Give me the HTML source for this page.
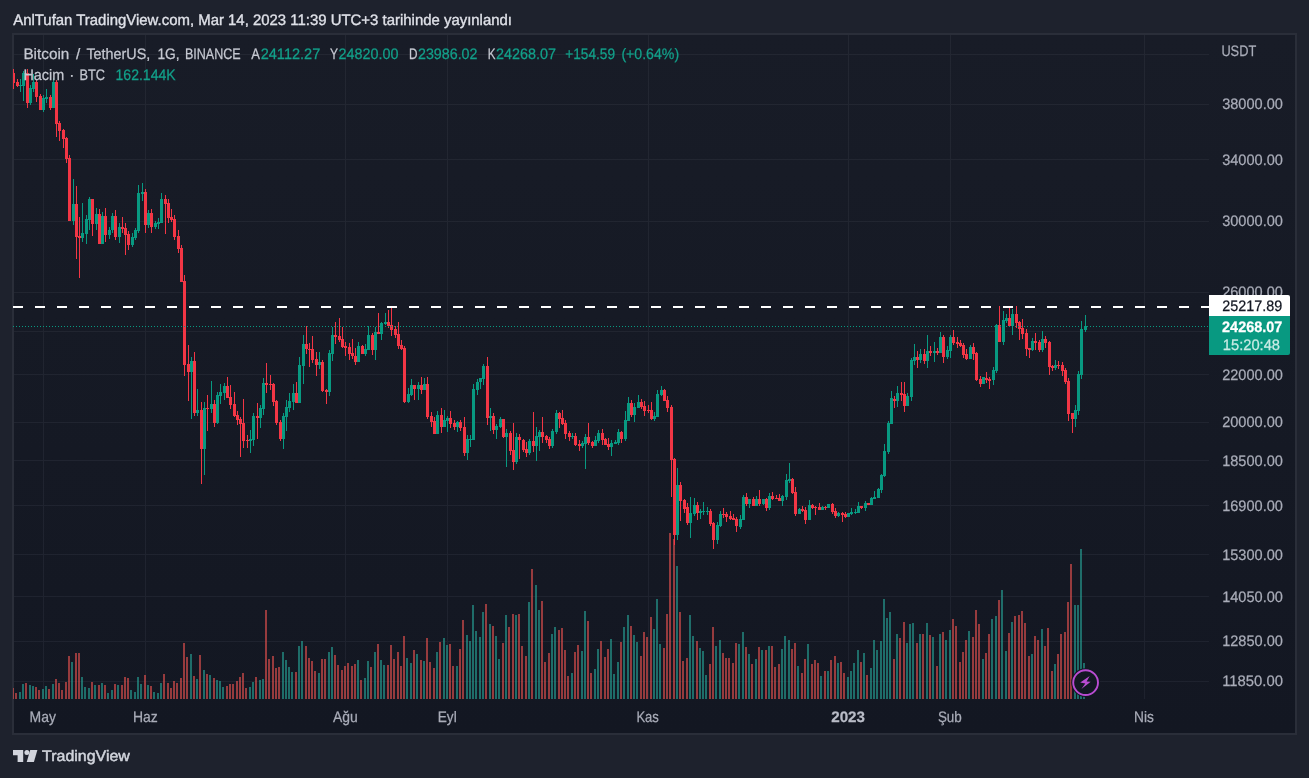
<!DOCTYPE html>
<html lang="tr"><head><meta charset="utf-8"><title>BTCUSDT</title>
<style>
html,body{margin:0;padding:0}
body{width:1309px;height:778px;background:#1e222d;position:relative;overflow:hidden;font-family:"Liberation Sans",Arial,sans-serif}
</style></head><body>
<svg width="1309" height="778" viewBox="0 0 1309 778" shape-rendering="crispEdges" style="position:absolute;left:0;top:0;will-change:transform">
<defs><linearGradient id="bg" x1="0" y1="0" x2="0" y2="1"><stop offset="0" stop-color="#181c27"/><stop offset="1" stop-color="#131722"/></linearGradient></defs>
<defs><clipPath id="pane"><rect x="13" y="35" width="1196" height="665"/></clipPath></defs>
<rect x="12" y="33" width="1285" height="702" fill="#2a2e39"/>
<rect x="14" y="35" width="1281" height="698" fill="url(#bg)"/>
<path d="M14 54.5H1209M14 104.5H1209M14 159.5H1209M14 221.5H1209M14 292.5H1209M14 331.5H1209M14 374.5H1209M14 422.5H1209M14 460.5H1209M14 505.5H1209M14 554.5H1209M14 596.5H1209M14 641.5H1209M14 681.5H1209M43.5 35V699M145.5 35V699M345.5 35V699M447.5 35V699M648.5 35V699M848.5 35V699M950.5 35V699M1144.5 35V699" stroke="#f0f3fa" stroke-opacity="0.055" stroke-width="1" fill="none"/>
<g clip-path="url(#pane)">
<path d="M19 699v-7h2v7zM22 699v-15h2v15zM29 699v-14h2v14zM32 699v-13h2v13zM42 699v-10h2v10zM45 699v-13h2v13zM52 699v-15h2v15zM71 699v-37h2v37zM81 699v-22h2v22zM84 699v-12h2v12zM88 699v-11h2v11zM94 699v-14h2v14zM101 699v-16h2v16zM107 699v-6h2v6zM111 699v-9h2v9zM117 699v-14h2v14zM130 699v-9h2v9zM134 699v-7h2v7zM137 699v-22h2v22zM140 699v-15h2v15zM147 699v-14h2v14zM153 699v-7h2v7zM157 699v-6h2v6zM160 699v-16h2v16zM190 699v-45h2v45zM196 699v-20h2v20zM203 699v-29h2v29zM209 699v-24h2v24zM216 699v-19h2v19zM219 699v-18h2v18zM222 699v-12h2v12zM249 699v-12h2v12zM252 699v-17h2v17zM259 699v-19h2v19zM262 699v-20h2v20zM282 699v-47h2v47zM285 699v-39h2v39zM288 699v-32h2v32zM291 699v-27h2v27zM298 699v-53h2v53zM301 699v-58h2v58zM318 699v-26h2v26zM328 699v-47h2v47zM331 699v-52h2v52zM357 699v-39h2v39zM364 699v-21h2v21zM367 699v-38h2v38zM374 699v-47h2v47zM380 699v-39h2v39zM383 699v-34h2v34zM406 699v-41h2v41zM410 699v-36h2v36zM416 699v-45h2v45zM423 699v-38h2v38zM436 699v-47h2v47zM443 699v-61h2v61zM446 699v-54h2v54zM456 699v-33h2v33zM466 699v-64h2v64zM469 699v-58h2v58zM472 699v-94h2v94zM475 699v-68h2v68zM479 699v-62h2v62zM482 699v-87h2v87zM489 699v-75h2v75zM495 699v-63h2v63zM498 699v-40h2v40zM505 699v-84h2v84zM515 699v-84h2v84zM528 699v-97h2v97zM535 699v-114h2v114zM538 699v-89h2v89zM551 699v-65h2v65zM554 699v-72h2v72zM571 699v-26h2v26zM581 699v-48h2v48zM584 699v-88h2v88zM594 699v-30h2v30zM597 699v-50h2v50zM610 699v-60h2v60zM613 699v-25h2v25zM617 699v-37h2v37zM623 699v-72h2v72zM627 699v-84h2v84zM633 699v-64h2v64zM636 699v-57h2v57zM653 699v-70h2v70zM656 699v-100h2v100zM659 699v-55h2v55zM676 699v-133h2v133zM689 699v-84h2v84zM692 699v-63h2v63zM699 699v-51h2v51zM702 699v-48h2v48zM705 699v-24h2v24zM715 699v-53h2v53zM719 699v-59h2v59zM738 699v-55h2v55zM742 699v-67h2v67zM748 699v-45h2v45zM755 699v-40h2v40zM761 699v-49h2v49zM768 699v-53h2v53zM781 699v-50h2v50zM784 699v-63h2v63zM788 699v-59h2v59zM797 699v-33h2v33zM807 699v-55h2v55zM820 699v-23h2v23zM827 699v-28h2v28zM837 699v-36h2v36zM847 699v-22h2v22zM850 699v-28h2v28zM853 699v-36h2v36zM857 699v-49h2v49zM863 699v-46h2v46zM870 699v-31h2v31zM873 699v-59h2v59zM876 699v-49h2v49zM880 699v-58h2v58zM883 699v-100h2v100zM886 699v-81h2v81zM889 699v-87h2v87zM896 699v-65h2v65zM906 699v-56h2v56zM909 699v-75h2v75zM912 699v-76h2v76zM919 699v-65h2v65zM926 699v-76h2v76zM932 699v-62h2v62zM939 699v-65h2v65zM945 699v-59h2v59zM949 699v-69h2v69zM968 699v-68h2v68zM982 699v-40h2v40zM991 699v-80h2v80zM995 699v-83h2v83zM1001 699v-109h2v109zM1005 699v-48h2v48zM1011 699v-77h2v77zM1031 699v-45h2v45zM1041 699v-70h2v70zM1054 699v-35h2v35zM1074 699v-94h2v94zM1077 699v-94h2v94zM1080 699v-150h2v150zM1083 699v-36h2v36z" fill="#26a69a" fill-opacity="0.6"/>
<path d="M12 699v-11h2v11zM15 699v-6h2v6zM25 699v-16h2v16zM35 699v-12h2v12zM38 699v-9h2v9zM48 699v-10h2v10zM55 699v-20h2v20zM58 699v-16h2v16zM61 699v-9h2v9zM65 699v-17h2v17zM68 699v-43h2v43zM75 699v-46h2v46zM78 699v-46h2v46zM91 699v-17h2v17zM98 699v-14h2v14zM104 699v-14h2v14zM114 699v-15h2v15zM121 699v-14h2v14zM124 699v-22h2v22zM127 699v-21h2v21zM144 699v-24h2v24zM150 699v-13h2v13zM163 699v-25h2v25zM167 699v-16h2v16zM170 699v-11h2v11zM173 699v-18h2v18zM176 699v-16h2v16zM180 699v-21h2v21zM183 699v-56h2v56zM186 699v-42h2v42zM193 699v-23h2v23zM199 699v-44h2v44zM206 699v-25h2v25zM213 699v-21h2v21zM226 699v-13h2v13zM229 699v-15h2v15zM232 699v-15h2v15zM236 699v-18h2v18zM239 699v-22h2v22zM242 699v-26h2v26zM245 699v-11h2v11zM255 699v-22h2v22zM265 699v-89h2v89zM268 699v-40h2v40zM272 699v-43h2v43zM275 699v-31h2v31zM278 699v-32h2v32zM295 699v-27h2v27zM305 699v-53h2v53zM308 699v-41h2v41zM311 699v-38h2v38zM314 699v-28h2v28zM321 699v-40h2v40zM324 699v-40h2v40zM334 699v-44h2v44zM337 699v-34h2v34zM341 699v-29h2v29zM344 699v-33h2v33zM347 699v-36h2v36zM351 699v-33h2v33zM354 699v-35h2v35zM360 699v-19h2v19zM370 699v-32h2v32zM377 699v-55h2v55zM387 699v-34h2v34zM390 699v-54h2v54zM393 699v-40h2v40zM397 699v-47h2v47zM400 699v-33h2v33zM403 699v-63h2v63zM413 699v-49h2v49zM420 699v-39h2v39zM426 699v-61h2v61zM429 699v-37h2v37zM433 699v-31h2v31zM439 699v-57h2v57zM449 699v-55h2v55zM452 699v-33h2v33zM459 699v-50h2v50zM462 699v-79h2v79zM485 699v-95h2v95zM492 699v-73h2v73zM502 699v-56h2v56zM508 699v-72h2v72zM512 699v-85h2v85zM518 699v-85h2v85zM521 699v-53h2v53zM525 699v-43h2v43zM531 699v-130h2v130zM541 699v-98h2v98zM544 699v-37h2v37zM548 699v-46h2v46zM558 699v-69h2v69zM561 699v-71h2v71zM564 699v-49h2v49zM567 699v-23h2v23zM574 699v-47h2v47zM577 699v-54h2v54zM587 699v-78h2v78zM590 699v-26h2v26zM600 699v-58h2v58zM604 699v-42h2v42zM607 699v-50h2v50zM620 699v-57h2v57zM630 699v-73h2v73zM640 699v-43h2v43zM643 699v-67h2v67zM646 699v-62h2v62zM650 699v-82h2v82zM663 699v-51h2v51zM666 699v-85h2v85zM669 699v-166h2v166zM673 699v-160h2v160zM679 699v-87h2v87zM682 699v-38h2v38zM686 699v-41h2v41zM696 699v-58h2v58zM709 699v-35h2v35zM712 699v-72h2v72zM722 699v-46h2v46zM725 699v-41h2v41zM728 699v-41h2v41zM732 699v-36h2v36zM735 699v-56h2v56zM745 699v-52h2v52zM751 699v-35h2v35zM758 699v-52h2v52zM765 699v-49h2v49zM771 699v-53h2v53zM774 699v-32h2v32zM778 699v-35h2v35zM791 699v-50h2v50zM794 699v-56h2v56zM801 699v-26h2v26zM804 699v-40h2v40zM811 699v-35h2v35zM814 699v-39h2v39zM817 699v-36h2v36zM824 699v-28h2v28zM830 699v-39h2v39zM834 699v-43h2v43zM840 699v-37h2v37zM843 699v-26h2v26zM860 699v-37h2v37zM866 699v-24h2v24zM893 699v-40h2v40zM899 699v-61h2v61zM903 699v-77h2v77zM916 699v-56h2v56zM922 699v-65h2v65zM929 699v-64h2v64zM936 699v-33h2v33zM942 699v-67h2v67zM952 699v-80h2v80zM955 699v-73h2v73zM959 699v-37h2v37zM962 699v-47h2v47zM965 699v-59h2v59zM972 699v-62h2v62zM975 699v-89h2v89zM978 699v-75h2v75zM985 699v-46h2v46zM988 699v-65h2v65zM998 699v-99h2v99zM1008 699v-66h2v66zM1014 699v-83h2v83zM1018 699v-84h2v84zM1021 699v-88h2v88zM1024 699v-76h2v76zM1028 699v-43h2v43zM1034 699v-63h2v63zM1037 699v-59h2v59zM1044 699v-53h2v53zM1047 699v-71h2v71zM1051 699v-28h2v28zM1057 699v-45h2v45zM1060 699v-65h2v65zM1064 699v-67h2v67zM1067 699v-97h2v97zM1070 699v-135h2v135z" fill="#ef5350" fill-opacity="0.6"/>
<path d="M20 79h1v13h-1zM19 85h3v1h-3zM23 71h1v30h-1zM22 73h3v13h-3zM30 85h1v20h-1zM29 88h3v15h-3zM33 74h1v18h-1zM32 82h3v7h-3zM43 95h1v17h-1zM42 98h3v12h-3zM46 89h1v14h-1zM45 97h3v2h-3zM53 78h1v30h-1zM52 82h3v26h-3zM73 179h1v46h-1zM72 204h3v17h-3zM82 203h1v39h-1zM81 233h3v5h-3zM86 215h1v29h-1zM85 219h3v15h-3zM89 197h1v33h-1zM88 199h3v21h-3zM96 208h1v22h-1zM95 214h3v10h-3zM102 212h1v32h-1zM101 216h3v28h-3zM109 227h1v12h-1zM108 230h3v5h-3zM112 213h1v20h-1zM111 216h3v14h-3zM119 223h1v20h-1zM118 227h3v10h-3zM132 233h1v14h-1zM131 237h3v8h-3zM135 228h1v12h-1zM134 230h3v8h-3zM138 185h1v48h-1zM137 193h3v38h-3zM142 183h1v18h-1zM141 192h3v2h-3zM148 210h1v18h-1zM147 213h3v12h-3zM155 221h1v8h-1zM154 223h3v4h-3zM158 218h1v11h-1zM157 222h3v2h-3zM161 193h1v30h-1zM160 199h3v24h-3zM191 357h1v62h-1zM190 361h3v11h-3zM197 389h1v27h-1zM196 410h3v3h-3zM204 402h1v73h-1zM203 408h3v41h-3zM211 381h1v32h-1zM210 404h3v5h-3zM217 392h1v32h-1zM216 395h3v28h-3zM220 384h1v20h-1zM219 392h3v4h-3zM224 383h1v17h-1zM223 386h3v7h-3zM250 430h1v23h-1zM249 439h3v2h-3zM253 413h1v33h-1zM252 416h3v24h-3zM260 405h1v23h-1zM259 408h3v10h-3zM263 378h1v37h-1zM262 383h3v26h-3zM283 413h1v36h-1zM282 416h3v23h-3zM286 400h1v31h-1zM285 407h3v10h-3zM289 393h1v19h-1zM288 401h3v7h-3zM293 384h1v26h-1zM292 393h3v9h-3zM299 357h1v46h-1zM298 365h3v38h-3zM303 335h1v49h-1zM302 344h3v22h-3zM319 352h1v17h-1zM318 362h3v3h-3zM329 350h1v46h-1zM328 353h3v39h-3zM332 327h1v34h-1zM331 335h3v19h-3zM358 342h1v20h-1zM357 346h3v16h-3zM365 344h1v12h-1zM364 349h3v5h-3zM368 326h1v24h-1zM367 335h3v15h-3zM375 327h1v33h-1zM374 332h3v18h-3zM381 322h1v18h-1zM380 323h3v11h-3zM385 313h1v12h-1zM384 322h3v2h-3zM408 388h1v15h-1zM407 394h3v8h-3zM411 379h1v17h-1zM410 385h3v10h-3zM418 382h1v18h-1zM417 385h3v4h-3zM424 378h1v12h-1zM423 384h3v6h-3zM437 411h1v23h-1zM436 415h3v19h-3zM444 410h1v17h-1zM443 420h3v7h-3zM447 416h1v16h-1zM446 418h3v3h-3zM457 421h1v11h-1zM456 422h3v5h-3zM467 435h1v25h-1zM466 439h3v14h-3zM470 435h1v12h-1zM469 439h3v1h-3zM473 384h1v56h-1zM472 389h3v51h-3zM477 379h1v16h-1zM476 382h3v8h-3zM480 378h1v11h-1zM479 378h3v4h-3zM483 364h1v21h-1zM482 366h3v13h-3zM490 408h1v23h-1zM489 416h3v2h-3zM496 424h1v15h-1zM495 426h3v4h-3zM500 417h1v11h-1zM499 419h3v8h-3zM506 429h1v38h-1zM505 433h3v4h-3zM516 433h1v31h-1zM515 437h3v25h-3zM529 439h1v16h-1zM528 441h3v12h-3zM536 427h1v34h-1zM535 436h3v10h-3zM539 430h1v21h-1zM538 432h3v5h-3zM552 429h1v19h-1zM551 431h3v15h-3zM556 410h1v24h-1zM555 413h3v19h-3zM572 433h1v6h-1zM571 436h3v1h-3zM582 441h1v7h-1zM581 443h3v3h-3zM585 434h1v35h-1zM584 437h3v7h-3zM595 436h1v10h-1zM594 440h3v6h-3zM598 430h1v13h-1zM597 433h3v8h-3zM611 440h1v16h-1zM610 443h3v4h-3zM615 440h1v4h-1zM614 442h3v2h-3zM618 429h1v16h-1zM617 432h3v11h-3zM625 411h1v30h-1zM624 420h3v19h-3zM628 397h1v24h-1zM627 403h3v18h-3zM634 403h1v19h-1zM633 407h3v8h-3zM638 395h1v13h-1zM637 402h3v6h-3zM654 412h1v9h-1zM653 416h3v3h-3zM657 390h1v27h-1zM656 394h3v23h-3zM661 386h1v10h-1zM660 390h3v5h-3zM677 468h1v72h-1zM676 485h3v50h-3zM690 497h1v41h-1zM689 513h3v10h-3zM694 498h1v18h-1zM693 505h3v9h-3zM700 509h1v10h-1zM699 511h3v2h-3zM703 502h1v13h-1zM702 511h3v1h-3zM707 507h1v8h-1zM706 511h3v1h-3zM717 522h1v22h-1zM716 525h3v15h-3zM720 511h1v16h-1zM719 514h3v12h-3zM740 515h1v14h-1zM739 519h3v8h-3zM743 495h1v25h-1zM742 497h3v23h-3zM749 499h1v9h-1zM748 499h3v5h-3zM756 496h1v10h-1zM755 499h3v7h-3zM763 499h1v6h-1zM762 499h3v5h-3zM769 493h1v17h-1zM768 496h3v12h-3zM782 495h1v11h-1zM781 496h3v5h-3zM786 474h1v26h-1zM785 480h3v17h-3zM789 463h1v20h-1zM788 479h3v2h-3zM799 508h1v6h-1zM798 509h3v5h-3zM809 500h1v20h-1zM808 505h3v15h-3zM822 506h1v4h-1zM821 507h3v3h-3zM828 504h1v4h-1zM827 504h3v4h-3zM838 512h1v5h-1zM837 513h3v3h-3zM848 513h1v4h-1zM847 513h3v4h-3zM851 508h1v7h-1zM850 512h3v2h-3zM855 509h1v5h-1zM854 512h3v1h-3zM858 502h1v11h-1zM857 506h3v7h-3zM865 501h1v10h-1zM864 503h3v5h-3zM871 497h1v8h-1zM870 498h3v7h-3zM874 491h1v8h-1zM873 497h3v2h-3zM878 488h1v10h-1zM877 489h3v9h-3zM881 474h1v19h-1zM880 475h3v15h-3zM884 444h1v33h-1zM883 451h3v25h-3zM888 421h1v33h-1zM887 423h3v29h-3zM891 391h1v33h-1zM890 398h3v26h-3zM897 386h1v21h-1zM896 393h3v8h-3zM907 393h1v13h-1zM906 396h3v10h-3zM911 358h1v43h-1zM910 360h3v37h-3zM914 344h1v21h-1zM913 357h3v4h-3zM920 349h1v14h-1zM919 354h3v6h-3zM927 335h1v33h-1zM926 351h3v10h-3zM934 342h1v20h-1zM933 351h3v2h-3zM940 332h1v21h-1zM939 337h3v16h-3zM947 346h1v13h-1zM946 350h3v7h-3zM950 335h1v23h-1zM949 337h3v14h-3zM970 345h1v14h-1zM969 347h3v12h-3zM983 377h1v7h-1zM982 377h3v7h-3zM993 367h1v18h-1zM992 370h3v10h-3zM996 324h1v49h-1zM995 325h3v46h-3zM1003 311h1v34h-1zM1002 320h3v22h-3zM1006 314h1v9h-1zM1005 318h3v3h-3zM1012 309h1v26h-1zM1011 314h3v12h-3zM1032 338h1v13h-1zM1031 341h3v9h-3zM1042 331h1v21h-1zM1041 339h3v11h-3zM1055 360h1v10h-1zM1054 365h3v3h-3zM1075 405h1v22h-1zM1074 410h3v9h-3zM1078 371h1v44h-1zM1077 374h3v37h-3zM1081 321h1v58h-1zM1080 329h3v46h-3zM1085 315h1v17h-1zM1084 326h3v4h-3z" fill="#089981"/>
<path d="M13 69h1v20h-1zM12 73h3v10h-3zM17 79h1v8h-1zM16 82h3v4h-3zM27 69h1v39h-1zM26 73h3v30h-3zM36 80h1v22h-1zM35 82h3v15h-3zM40 94h1v16h-1zM39 96h3v14h-3zM50 95h1v15h-1zM49 97h3v11h-3zM56 80h1v57h-1zM55 82h3v42h-3zM59 121h1v20h-1zM58 123h3v8h-3zM63 129h1v19h-1zM62 130h3v9h-3zM66 137h1v26h-1zM65 138h3v21h-3zM69 155h1v66h-1zM68 158h3v63h-3zM76 186h1v73h-1zM75 204h3v33h-3zM79 217h1v61h-1zM78 236h3v2h-3zM92 199h1v37h-1zM91 199h3v25h-3zM99 209h1v35h-1zM98 214h3v30h-3zM105 208h1v34h-1zM104 216h3v19h-3zM115 210h1v30h-1zM114 216h3v21h-3zM122 217h1v16h-1zM121 227h3v2h-3zM125 223h1v32h-1zM124 228h3v7h-3zM128 231h1v19h-1zM127 234h3v11h-3zM145 189h1v44h-1zM144 192h3v33h-3zM151 209h1v24h-1zM150 213h3v14h-3zM165 195h1v39h-1zM164 199h3v5h-3zM168 199h1v24h-1zM167 203h3v15h-3zM171 209h1v13h-1zM170 217h3v3h-3zM174 215h1v25h-1zM173 219h3v18h-3zM178 230h1v23h-1zM177 236h3v13h-3zM181 245h1v37h-1zM180 248h3v34h-3zM184 275h1v101h-1zM183 281h3v84h-3zM188 345h1v56h-1zM187 364h3v8h-3zM194 352h1v64h-1zM193 361h3v52h-3zM201 402h1v82h-1zM200 410h3v39h-3zM207 395h1v36h-1zM206 408h3v1h-3zM214 400h1v27h-1zM213 404h3v19h-3zM227 377h1v21h-1zM226 386h3v12h-3zM230 385h1v24h-1zM229 397h3v8h-3zM234 392h1v25h-1zM233 404h3v12h-3zM237 411h1v14h-1zM236 415h3v5h-3zM240 417h1v40h-1zM239 419h3v5h-3zM243 399h1v49h-1zM242 423h3v18h-3zM247 435h1v13h-1zM246 440h3v1h-3zM257 403h1v36h-1zM256 416h3v2h-3zM266 363h1v30h-1zM265 383h3v2h-3zM270 375h1v15h-1zM269 384h3v1h-3zM273 383h1v23h-1zM272 384h3v18h-3zM276 400h1v25h-1zM275 401h3v22h-3zM280 420h1v21h-1zM279 422h3v17h-3zM296 382h1v21h-1zM295 393h3v10h-3zM306 326h1v28h-1zM305 344h3v5h-3zM309 343h1v24h-1zM308 349h3v1h-3zM312 336h1v27h-1zM311 349h3v11h-3zM316 352h1v24h-1zM315 359h3v6h-3zM322 360h1v32h-1zM321 362h3v29h-3zM326 389h1v15h-1zM325 390h3v2h-3zM335 322h1v22h-1zM334 335h3v2h-3zM339 318h1v24h-1zM338 336h3v4h-3zM342 327h1v21h-1zM341 339h3v8h-3zM345 342h1v14h-1zM344 346h3v2h-3zM349 343h1v17h-1zM348 347h3v7h-3zM352 339h1v20h-1zM351 353h3v3h-3zM355 348h1v17h-1zM354 356h3v6h-3zM362 345h1v9h-1zM361 346h3v8h-3zM372 333h1v22h-1zM371 335h3v15h-3zM378 313h1v21h-1zM377 332h3v2h-3zM388 310h1v18h-1zM387 322h3v4h-3zM391 307h1v29h-1zM390 325h3v5h-3zM395 326h1v12h-1zM394 329h3v6h-3zM398 322h1v27h-1zM397 334h3v12h-3zM401 340h1v10h-1zM400 345h3v4h-3zM404 346h1v57h-1zM403 348h3v54h-3zM414 385h1v15h-1zM413 385h3v4h-3zM421 377h1v17h-1zM420 385h3v5h-3zM427 377h1v42h-1zM426 384h3v33h-3zM431 412h1v15h-1zM430 416h3v6h-3zM434 417h1v17h-1zM433 421h3v13h-3zM441 408h1v25h-1zM440 415h3v12h-3zM450 411h1v17h-1zM449 418h3v6h-3zM454 420h1v10h-1zM453 423h3v4h-3zM460 420h1v11h-1zM459 422h3v6h-3zM464 417h1v39h-1zM463 427h3v26h-3zM487 357h1v68h-1zM486 366h3v52h-3zM493 413h1v21h-1zM492 416h3v14h-3zM503 419h1v19h-1zM502 419h3v18h-3zM510 431h1v24h-1zM509 433h3v18h-3zM513 423h1v47h-1zM512 450h3v12h-3zM519 434h1v25h-1zM518 437h3v3h-3zM523 439h1v13h-1zM522 440h3v10h-3zM526 442h1v15h-1zM525 449h3v4h-3zM533 412h1v40h-1zM532 441h3v5h-3zM542 417h1v26h-1zM541 432h3v5h-3zM546 435h1v8h-1zM545 436h3v4h-3zM549 437h1v12h-1zM548 439h3v7h-3zM559 412h1v16h-1zM558 413h3v6h-3zM562 410h1v15h-1zM561 418h3v6h-3zM565 420h1v19h-1zM564 423h3v11h-3zM569 431h1v10h-1zM568 433h3v4h-3zM575 433h1v13h-1zM574 436h3v9h-3zM579 440h1v11h-1zM578 444h3v2h-3zM588 423h1v22h-1zM587 437h3v6h-3zM592 441h1v7h-1zM591 442h3v4h-3zM602 429h1v16h-1zM601 433h3v7h-3zM605 438h1v7h-1zM604 439h3v6h-3zM608 438h1v12h-1zM607 444h3v3h-3zM621 431h1v12h-1zM620 432h3v7h-3zM631 400h1v17h-1zM630 403h3v12h-3zM641 399h1v10h-1zM640 402h3v5h-3zM644 401h1v15h-1zM643 406h3v5h-3zM648 405h1v8h-1zM647 410h3v1h-3zM651 402h1v18h-1zM650 410h3v9h-3zM664 389h1v12h-1zM663 390h3v11h-3zM667 396h1v16h-1zM666 400h3v8h-3zM671 405h1v92h-1zM670 407h3v53h-3zM674 458h1v87h-1zM673 459h3v76h-3zM680 482h1v39h-1zM679 485h3v16h-3zM684 499h1v14h-1zM683 500h3v9h-3zM687 503h1v22h-1zM686 507h3v16h-3zM697 502h1v18h-1zM696 505h3v8h-3zM710 509h1v17h-1zM709 511h3v13h-3zM713 522h1v27h-1zM712 523h3v17h-3zM723 508h1v10h-1zM722 514h3v1h-3zM726 512h1v10h-1zM725 514h3v3h-3zM730 511h1v9h-1zM729 516h3v3h-3zM733 514h1v6h-1zM732 518h3v2h-3zM736 517h1v15h-1zM735 519h3v7h-3zM746 493h1v13h-1zM745 497h3v7h-3zM753 497h1v9h-1zM752 499h3v7h-3zM759 490h1v16h-1zM758 499h3v5h-3zM766 498h1v13h-1zM765 499h3v9h-3zM772 492h1v8h-1zM771 496h3v3h-3zM776 495h1v4h-1zM775 498h3v1h-3zM779 494h1v7h-1zM778 498h3v3h-3zM792 478h1v16h-1zM791 479h3v14h-3zM795 487h1v29h-1zM794 492h3v22h-3zM802 506h1v6h-1zM801 509h3v2h-3zM805 507h1v17h-1zM804 510h3v10h-3zM812 504h1v5h-1zM811 505h3v3h-3zM815 506h1v9h-1zM814 507h3v1h-3zM819 503h1v7h-1zM818 507h3v3h-3zM825 506h1v4h-1zM824 507h3v1h-3zM832 503h1v11h-1zM831 504h3v8h-3zM835 508h1v10h-1zM834 511h3v5h-3zM842 512h1v10h-1zM841 513h3v2h-3zM845 512h1v6h-1zM844 514h3v3h-3zM861 506h1v3h-1zM860 506h3v2h-3zM868 503h1v2h-1zM867 503h3v2h-3zM894 396h1v12h-1zM893 399h3v2h-3zM901 382h1v19h-1zM900 393h3v2h-3zM904 382h1v30h-1zM903 394h3v12h-3zM917 351h1v17h-1zM916 357h3v3h-3zM924 349h1v15h-1zM923 354h3v7h-3zM930 346h1v10h-1zM929 351h3v2h-3zM937 348h1v7h-1zM936 351h3v2h-3zM943 335h1v28h-1zM942 337h3v20h-3zM953 330h1v15h-1zM952 337h3v6h-3zM957 337h1v11h-1zM956 342h3v2h-3zM960 340h1v7h-1zM959 343h3v3h-3zM963 343h1v15h-1zM962 345h3v10h-3zM966 349h1v11h-1zM965 354h3v5h-3zM973 343h1v17h-1zM972 347h3v7h-3zM976 352h1v29h-1zM975 353h3v27h-3zM980 376h1v11h-1zM979 379h3v5h-3zM986 372h1v11h-1zM985 378h3v2h-3zM989 377h1v12h-1zM988 379h3v2h-3zM999 306h1v36h-1zM998 325h3v17h-3zM1009 307h1v20h-1zM1008 318h3v8h-3zM1016 306h1v22h-1zM1015 314h3v9h-3zM1019 321h1v19h-1zM1018 322h3v7h-3zM1022 319h1v20h-1zM1021 328h3v6h-3zM1026 329h1v27h-1zM1025 333h3v16h-3zM1029 348h1v10h-1zM1028 348h3v2h-3zM1035 333h1v17h-1zM1034 341h3v2h-3zM1039 340h1v12h-1zM1038 342h3v8h-3zM1045 336h1v12h-1zM1044 339h3v4h-3zM1049 341h1v34h-1zM1048 342h3v25h-3zM1052 365h1v6h-1zM1051 366h3v2h-3zM1058 361h1v8h-1zM1057 365h3v1h-3zM1062 362h1v14h-1zM1061 365h3v6h-3zM1065 368h1v16h-1zM1064 370h3v12h-3zM1068 378h1v43h-1zM1067 381h3v33h-3zM1072 413h1v20h-1zM1071 413h3v6h-3z" fill="#f23645"/>
</g>
<path d="M13 326.5H1209" clip-path="url(#pane)" stroke="#089981" stroke-width="1" stroke-dasharray="1 2" fill="none"/>
<path d="M13 307H1209" stroke="#ffffff" stroke-width="2" stroke-dasharray="10 12" fill="none" clip-path="url(#pane)"/>
<g font-family="Liberation Sans, Arial, sans-serif" text-rendering="geometricPrecision" shape-rendering="geometricPrecision" stroke-width="0.25" style="white-space:pre">
<text x="13.2" y="25" font-size="15.2" stroke-width="0.35" fill="#dfe1e8" stroke="#dfe1e8" textLength="498.8" lengthAdjust="spacingAndGlyphs">AnlTufan TradingView.com, Mar 14, 2023 11:39 UTC+3 tarihinde yayınlandı</text>
<text x="23.4" y="59" font-size="15.2" fill="#c5c8d1" stroke="#c5c8d1" textLength="45.9" lengthAdjust="spacingAndGlyphs">Bitcoin</text>
<text x="75.9" y="59" font-size="15.2" fill="#c5c8d1" stroke="#c5c8d1">/</text>
<text x="86.4" y="59" font-size="15.2" fill="#c5c8d1" stroke="#c5c8d1" textLength="63.9" lengthAdjust="spacingAndGlyphs">TetherUS,</text>
<text x="157.4" y="59" font-size="15.2" fill="#c5c8d1" stroke="#c5c8d1" textLength="22.2" lengthAdjust="spacingAndGlyphs">1G,</text>
<text x="184.9" y="59" font-size="15.2" fill="#c5c8d1" stroke="#c5c8d1" textLength="55.8" lengthAdjust="spacingAndGlyphs">BINANCE</text>
<text x="251.3" y="59" font-size="15.2" fill="#c5c8d1" stroke="#c5c8d1" textLength="8.7" lengthAdjust="spacingAndGlyphs">A</text>
<text x="260.7" y="59" font-size="15.2" fill="#12a08a" stroke="#12a08a" textLength="59.6" lengthAdjust="spacingAndGlyphs">24112.27</text>
<text x="330.0" y="59" font-size="15.2" fill="#c5c8d1" stroke="#c5c8d1" textLength="8.0" lengthAdjust="spacingAndGlyphs">Y</text>
<text x="338.5" y="59" font-size="15.2" fill="#12a08a" stroke="#12a08a" textLength="59.9" lengthAdjust="spacingAndGlyphs">24820.00</text>
<text x="409.0" y="59" font-size="15.2" fill="#c5c8d1" stroke="#c5c8d1" textLength="8.5" lengthAdjust="spacingAndGlyphs">D</text>
<text x="418.0" y="59" font-size="15.2" fill="#12a08a" stroke="#12a08a" textLength="59.5" lengthAdjust="spacingAndGlyphs">23986.02</text>
<text x="487.7" y="59" font-size="15.2" fill="#c5c8d1" stroke="#c5c8d1" textLength="7.8" lengthAdjust="spacingAndGlyphs">K</text>
<text x="496.0" y="59" font-size="15.2" fill="#12a08a" stroke="#12a08a" textLength="60.0" lengthAdjust="spacingAndGlyphs">24268.07</text>
<text x="565.2" y="59" font-size="15.2" fill="#12a08a" stroke="#12a08a" textLength="49.8" lengthAdjust="spacingAndGlyphs">+154.59</text>
<text x="621.4" y="59" font-size="15.2" fill="#12a08a" stroke="#12a08a" textLength="57.7" lengthAdjust="spacingAndGlyphs">(+0.64%)</text>
<text x="23.4" y="80" font-size="15.2" fill="#c5c8d1" stroke="#c5c8d1" textLength="40.8" lengthAdjust="spacingAndGlyphs">Hacim</text>
<text x="69.2" y="80" font-size="15.2" fill="#c5c8d1" stroke="#c5c8d1">·</text>
<text x="79.5" y="80" font-size="15.2" fill="#c5c8d1" stroke="#c5c8d1" textLength="25.5" lengthAdjust="spacingAndGlyphs">BTC</text>
<text x="115.5" y="80" font-size="15.2" fill="#12a08a" stroke="#12a08a" textLength="60.2" lengthAdjust="spacingAndGlyphs">162.144K</text>
<text x="1221.4" y="56" font-size="15.2" fill="#a9acb8" stroke="#a9acb8" textLength="34.8" lengthAdjust="spacingAndGlyphs">USDT</text>
<text x="1222.2" y="109" font-size="15.2" fill="#a9acb8" stroke="#a9acb8" textLength="60.7" lengthAdjust="spacingAndGlyphs">38000.00</text>
<text x="1222.2" y="165" font-size="15.2" fill="#a9acb8" stroke="#a9acb8" textLength="60.7" lengthAdjust="spacingAndGlyphs">34000.00</text>
<text x="1222.2" y="226" font-size="15.2" fill="#a9acb8" stroke="#a9acb8" textLength="60.7" lengthAdjust="spacingAndGlyphs">30000.00</text>
<text x="1222.2" y="297" font-size="15.2" fill="#a9acb8" stroke="#a9acb8" textLength="60.7" lengthAdjust="spacingAndGlyphs">26000.00</text>
<text x="1222.2" y="380" font-size="15.2" fill="#a9acb8" stroke="#a9acb8" textLength="60.7" lengthAdjust="spacingAndGlyphs">22000.00</text>
<text x="1222.2" y="427" font-size="15.2" fill="#a9acb8" stroke="#a9acb8" textLength="60.7" lengthAdjust="spacingAndGlyphs">20000.00</text>
<text x="1222.2" y="466" font-size="15.2" fill="#a9acb8" stroke="#a9acb8" textLength="60.7" lengthAdjust="spacingAndGlyphs">18500.00</text>
<text x="1222.2" y="511" font-size="15.2" fill="#a9acb8" stroke="#a9acb8" textLength="60.7" lengthAdjust="spacingAndGlyphs">16900.00</text>
<text x="1222.2" y="560" font-size="15.2" fill="#a9acb8" stroke="#a9acb8" textLength="60.7" lengthAdjust="spacingAndGlyphs">15300.00</text>
<text x="1222.2" y="602" font-size="15.2" fill="#a9acb8" stroke="#a9acb8" textLength="60.7" lengthAdjust="spacingAndGlyphs">14050.00</text>
<text x="1222.2" y="646" font-size="15.2" fill="#a9acb8" stroke="#a9acb8" textLength="60.7" lengthAdjust="spacingAndGlyphs">12850.00</text>
<text x="1222.2" y="686" font-size="15.2" fill="#a9acb8" stroke="#a9acb8" textLength="60.7" lengthAdjust="spacingAndGlyphs">11850.00</text>
<text x="29.6" y="722" font-size="15.2" fill="#a9acb8" stroke="#a9acb8" textLength="26.4" lengthAdjust="spacingAndGlyphs">May</text>
<text x="132.9" y="722" font-size="15.2" fill="#a9acb8" stroke="#a9acb8" textLength="24.8" lengthAdjust="spacingAndGlyphs">Haz</text>
<text x="332.9" y="722" font-size="15.2" fill="#a9acb8" stroke="#a9acb8" textLength="24.8" lengthAdjust="spacingAndGlyphs">Ağu</text>
<text x="437.7" y="722" font-size="15.2" fill="#a9acb8" stroke="#a9acb8" textLength="19.0" lengthAdjust="spacingAndGlyphs">Eyl</text>
<text x="636.4" y="722" font-size="15.2" fill="#a9acb8" stroke="#a9acb8" textLength="22.5" lengthAdjust="spacingAndGlyphs">Kas</text>
<text x="937.9" y="722" font-size="15.2" fill="#a9acb8" stroke="#a9acb8" textLength="23.9" lengthAdjust="spacingAndGlyphs">Şub</text>
<text x="1134.0" y="722" font-size="15.2" fill="#a9acb8" stroke="#a9acb8" textLength="19.8" lengthAdjust="spacingAndGlyphs">Nis</text>
<text x="831.2" y="722" font-size="15.2" font-weight="700" fill="#b9bcc7" stroke="#b9bcc7" textLength="33.8" lengthAdjust="spacingAndGlyphs">2023</text>
<text x="42.1" y="761" font-size="15.2" stroke-width="0.5" fill="#d1d4dc" stroke="#d1d4dc" textLength="87.7" lengthAdjust="spacingAndGlyphs">TradingView</text>
<path d="M1209 295H1288a2 2 0 0 1 2 2V316H1209Z" fill="#ffffff"/>
<path d="M1209 316H1290V353a2 2 0 0 1 -2 2H1209Z" fill="#089981"/>
<text x="1222.3" y="311" font-size="15.2" fill="#131722" stroke="#131722" textLength="60.0" lengthAdjust="spacingAndGlyphs">25217.89</text>
<text x="1222.1" y="332" font-size="15.2" font-weight="700" fill="#ffffff" stroke="#ffffff" textLength="60.2" lengthAdjust="spacingAndGlyphs">24268.07</text>
<text x="1222.8" y="350" font-size="15.2" fill="#c9ebe5" stroke="#c9ebe5" textLength="57.2" lengthAdjust="spacingAndGlyphs">15:20:48</text>
</g>
<g shape-rendering="geometricPrecision">
<circle cx="1085.6" cy="682.6" r="14.4" fill="#131823"/>
<circle cx="1085.6" cy="682.6" r="12.4" fill="#131823" stroke="#b94cd2" stroke-width="1.9"/>
<path d="M1089.7 675.9 L1080.2 682.6 L1085.3 683.4 L1081.4 689 L1090.7 681.8 L1086.6 681.4 Z" fill="#b94cd2"/>
<g fill="#d1d4dc"><path d="M13 750H23.2V762H17.6V755.2H13Z"/><circle cx="26.9" cy="752.5" r="2.5"/><path d="M30.2 750H37.4L33.9 762H26.7Z"/></g>
</g>
</svg>
</body></html>
